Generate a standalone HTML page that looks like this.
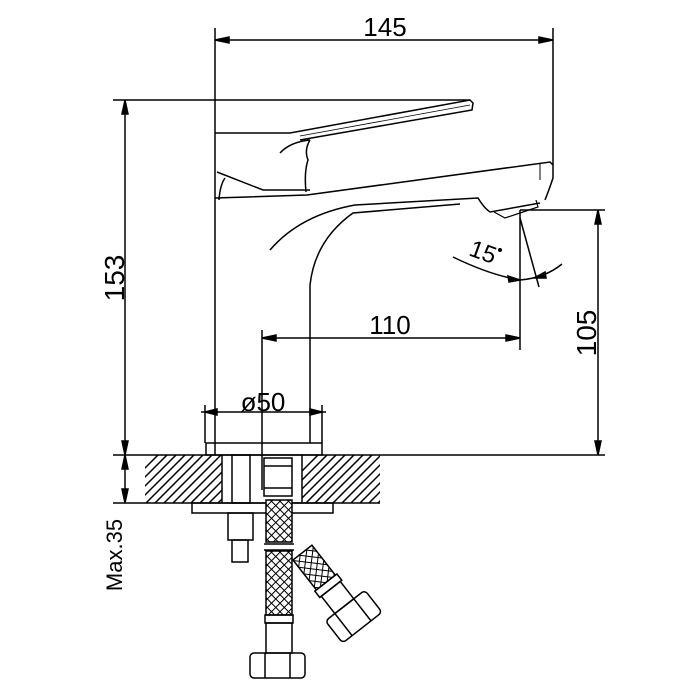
<!DOCTYPE html>
<html><head><meta charset="utf-8"><style>
html,body{margin:0;padding:0;background:#fff;width:700px;height:700px;overflow:hidden}
text{font-family:"Liberation Sans",sans-serif;fill:#000}
</style></head><body>
<svg width="700" height="700" viewBox="0 0 700 700" xmlns="http://www.w3.org/2000/svg">
<defs>
<pattern id="mesh" patternUnits="userSpaceOnUse" width="6" height="6" patternTransform="rotate(45)">
<rect width="6" height="6" fill="#fff"/>
<line x1="0" y1="0" x2="6" y2="0" stroke="#000" stroke-width="2"/>
<line x1="0" y1="0" x2="0" y2="6" stroke="#000" stroke-width="2"/>
</pattern>
<clipPath id="c1"><rect x="145" y="455" width="77" height="48"/></clipPath>
<clipPath id="c2"><rect x="302" y="455" width="78" height="48"/></clipPath>
</defs>
<g fill="none" stroke="#000" stroke-width="1.5">
<g clip-path="url(#c1)">
<path d="M100,513 l60,-60 M109,513 l60,-60 M118,513 l60,-60 M127,513 l60,-60 M136,513 l60,-60 M145,513 l60,-60 M154,513 l60,-60 M163,513 l60,-60 M172,513 l60,-60 M181,513 l60,-60 M190,513 l60,-60 M199,513 l60,-60 M208,513 l60,-60 M217,513 l60,-60"/>
</g>
<g clip-path="url(#c2)">
<path d="M260,513 l60,-60 M269,513 l60,-60 M278,513 l60,-60 M287,513 l60,-60 M296,513 l60,-60 M305,513 l60,-60 M314,513 l60,-60 M323,513 l60,-60 M332,513 l60,-60 M341,513 l60,-60 M350,513 l60,-60 M359,513 l60,-60 M368,513 l60,-60 M377,513 l60,-60"/>
</g>
<line x1="215" y1="28" x2="215" y2="455"/>
<line x1="553" y1="28" x2="553" y2="165"/>
<line x1="227" y1="40" x2="541" y2="40"/>
<path d="M215,40 l14,-3 v6z M553,40 l-14,-3 v6z" fill="#000"/>
<line x1="113" y1="100" x2="470" y2="100"/>
<line x1="125" y1="100" x2="125" y2="455"/>
<path d="M125,100 l-3,14 h6z M125,455 l-3,-14 h6z" fill="#000"/>
<line x1="113" y1="455" x2="605" y2="455"/>
<line x1="125" y1="455" x2="125" y2="503"/>
<line x1="113" y1="503" x2="145" y2="503"/>
<path d="M125,455 l-3,14 h6z M125,503 l-3,-14 h6z" fill="#000"/>
<line x1="520" y1="210" x2="605" y2="210"/>
<line x1="598" y1="210" x2="598" y2="455"/>
<path d="M598,210 l-3,14 h6z M598,455 l-3,-14 h6z" fill="#000"/>
<line x1="262" y1="330" x2="262" y2="490"/>
<line x1="520" y1="210" x2="520" y2="350"/>
<line x1="262" y1="338" x2="520" y2="338"/>
<path d="M262,338 l14,-3 v6z M520,338 l-14,-3 v6z" fill="#000"/>
<line x1="205" y1="405" x2="205" y2="443"/>
<line x1="322" y1="405" x2="322" y2="443"/>
<line x1="201" y1="412" x2="326" y2="412"/>
<path d="M205,412 l12,-3 v6z M322,412 l-12,-3 v6z" fill="#000"/>
<line x1="520" y1="218" x2="539" y2="287"/>
<path d="M453,257 Q490,275 520,280 Q545,278 562,264"/>
<path d="M520,280 l-12,-4 l1,6z" fill="#000"/>
<path d="M534,278 l11,-6 l1,6z" fill="#000"/>
<path d="M215,133 H290 L470,100 L473,103 L472,110 L300,140"/>
<line x1="300" y1="136" x2="470" y2="105" stroke-width="0.8"/>
<path d="M280,153 Q290,142 310,140"/>
<path d="M310,140 Q304,150 308,160 Q304,172 306,192" />
<path d="M217,172 L263,190 H310"/>
<path d="M219,200 Q220,185 225,178"/>
<path d="M215,198 L307,195 L550,162 L553,165 L553,178 Q549,190 545,200"/>
<line x1="540" y1="164" x2="540" y2="180" stroke-width="1"/>
<path d="M270,250 Q300,215 355,205 L478,198 Q484,208 490,212 L540,203"/>
<path d="M494,212 L505,218 L520,213 L538,207 L536,200" stroke-width="1.2"/>
<path d="M310,443 V285 Q315,240 353,213 L460,204"/>
<rect x="206" y="443" width="116" height="12"/>
<line x1="145" y1="503" x2="380" y2="503"/>
<line x1="222" y1="455" x2="222" y2="503"/>
<line x1="302" y1="455" x2="302" y2="503"/>
<rect x="192" y="503" width="141" height="10"/>
<rect x="232" y="455" width="18" height="48"/>
<rect x="228" y="513" width="25" height="27"/>
<rect x="232" y="540" width="16" height="22"/>
<rect x="264" y="458" width="28" height="38"/>
<line x1="264" y1="466" x2="292" y2="466"/>
<line x1="264" y1="488" x2="292" y2="488"/>
<rect x="266" y="500" width="26" height="42" fill="url(#mesh)"/>
<line x1="264" y1="544" x2="294" y2="544"/>
<line x1="264" y1="550" x2="294" y2="550"/>
<rect x="266" y="551" width="26" height="64" fill="url(#mesh)"/>
<rect x="265" y="615" width="28" height="8"/>
<rect x="266" y="623" width="26" height="30"/>
<rect x="250" y="653" width="55" height="25" rx="4"/>
<line x1="265" y1="653" x2="265" y2="678"/>
<line x1="290" y1="653" x2="290" y2="678"/>
<g transform="translate(293,560) rotate(-38)">
<rect x="0" y="0" width="24" height="38" fill="url(#mesh)"/>
<rect x="-2" y="38" width="28" height="8"/>
<rect x="0" y="46" width="24" height="22"/>
<rect x="-12" y="68" width="50" height="28" rx="4"/>
<line x1="0" y1="68" x2="0" y2="96"/>
<line x1="24" y1="68" x2="24" y2="96"/>
</g>
</g>
<text x="385" y="36" font-size="26" text-anchor="middle">145</text>
<text x="390" y="334" font-size="26" text-anchor="middle">110</text>
<text x="263" y="411" font-size="26" text-anchor="middle">ø50</text>
<text x="483" y="260" font-size="24" text-anchor="middle" transform="rotate(20 483 252)">15</text>
<circle cx="500" cy="250" r="2" fill="#000"/>
<text font-size="28" text-anchor="middle" transform="translate(124,278) rotate(-90)">153</text>
<text font-size="28" text-anchor="middle" transform="translate(596,333) rotate(-90)">105</text>
<text font-size="22" text-anchor="middle" transform="translate(122,555) rotate(-90)">Max.35</text>
</svg>
</body></html>
